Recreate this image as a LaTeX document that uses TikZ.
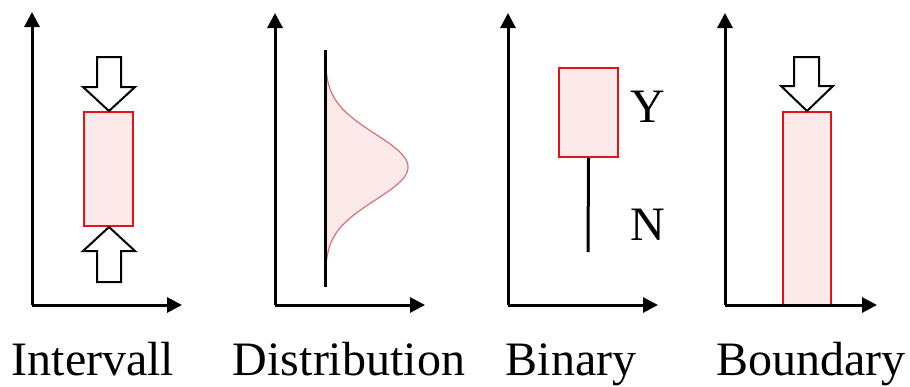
\documentclass[tikz,border=0pt]{standalone}
\usepackage{fontspec}
\setmainfont{Liberation Serif}
\usetikzlibrary{arrows.meta}
\definecolor{boxred}{RGB}{228,20,20}
\definecolor{boxfill}{RGB}{252,234,234}
\definecolor{curvered}{RGB}{222,110,120}
\tikzset{
  axis/.style={line width=3pt,-{Triangle[length=15pt,width=15pt]}},
  redbox/.style={draw=boxred,fill=boxfill,line width=2.4pt},
  hollow/.style={draw=black,fill=white,line width=2pt,line join=miter},
  lbl/.style={font=\fontsize{48}{50}\selectfont,anchor=base,inner sep=0pt},
  stem/.style={line width=3pt}
}
\begin{document}
\begin{tikzpicture}[x=1pt,y=-1pt]
\useasboundingbox (0,0) rectangle (910,386);
% Panel 1: Intervall
\coordinate (o1) at (32,305);
\coordinate (y1) at (32,12);
\coordinate (x1) at (182,305);
\draw[axis] (o1) -- (y1);
\draw[axis] (o1) -- (x1);
\draw[redbox] (84,112) rectangle (133,226);
\draw[hollow] (97,57) -- (121,57) -- (121,87) -- (135,87) -- (109,111) -- (83,87) -- (97,87) -- cycle;
\draw[hollow] (97,282) -- (121,282) -- (121,251) -- (135,251) -- (109,227) -- (83,251) -- (97,251) -- cycle;
\node[lbl] (l1) at (93,375) {Intervall};
% Panel 2: Distribution
\coordinate (o2) at (275,305);
\coordinate (y2) at (275,13);
\coordinate (x2) at (425,305);
\draw[axis] (o2) -- (y2);
\draw[axis] (o2) -- (x2);
\fill[boxfill] plot[domain=62:272,samples=80,smooth] ({325+83*exp(-((\x-167)^2)/2178)},\x) -- cycle;
\draw[curvered,line width=1.2pt] plot[domain=62:272,samples=80,smooth] ({325+83*exp(-((\x-167)^2)/2178)},\x);
\coordinate (d1) at (325,50);
\coordinate (d2) at (325,287);
\draw[stem] (d1) -- (d2);
\node[lbl] (l2) at (349,375) {Distribution};
% Panel 3: Binary
\coordinate (o3) at (508,305);
\coordinate (y3) at (508,13);
\coordinate (x3) at (658,305);
\draw[axis] (o3) -- (y3);
\draw[axis] (o3) -- (x3);
\node[redbox,minimum width=59pt,minimum height=89pt,inner sep=0pt] (yb) at (588.5,112.5) {};
\coordinate (ne) at (588,252);
\draw[stem] (yb.south) -- (ne);
\node[lbl] (ly) at (648,122) {Y};
\node[lbl] (ln) at (648,240) {N};
\node[lbl] (l3) at (571,375) {Binary};
% Panel 4: Boundary
\coordinate (o4) at (725,305);
\coordinate (y4) at (725,13);
\coordinate (x4) at (877,305);
\draw[redbox] (783,112) rectangle (831,305);
\draw[axis] (o4) -- (y4);
\draw[axis] (o4) -- (x4);
\draw[hollow] (794,57) -- (819,57) -- (819,86) -- (833,86) -- (807,111) -- (781,86) -- (794,86) -- cycle;
\node[lbl] (l4) at (811,375) {Boundary};
\end{tikzpicture}
\end{document}
